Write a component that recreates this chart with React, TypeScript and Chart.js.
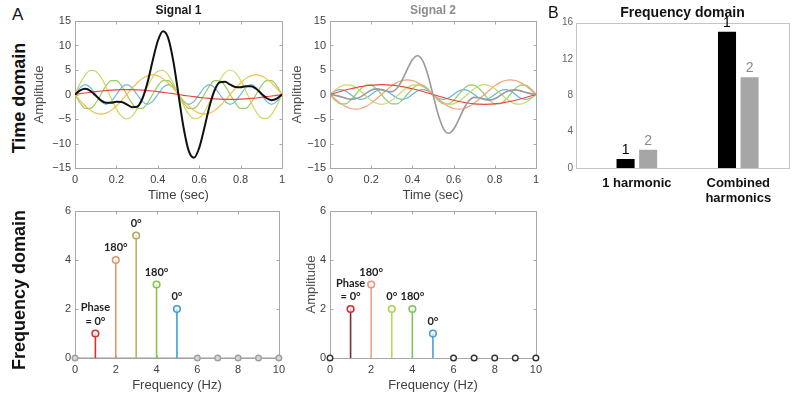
import React, { useEffect, useRef } from 'react';
import Chart from 'chart.js/auto';

// ---------- data ----------
const TIME = [0, 0.025, 0.05, 0.075, 0.1, 0.125, 0.15, 0.175, 0.2, 0.225, 0.25, 0.275, 0.3, 0.325, 0.35, 0.375, 0.4, 0.425, 0.45, 0.475, 0.5, 0.525, 0.55, 0.575, 0.6, 0.625, 0.65, 0.675, 0.7, 0.725, 0.75, 0.775, 0.8, 0.825, 0.85, 0.875, 0.9, 0.925, 0.95, 0.975, 1];

// Signal 1 harmonics (1..5 Hz) and their sum
const S1_H1 = [0, 0.16, 0.31, 0.45, 0.59, 0.71, 0.81, 0.89, 0.95, 0.99, 1, 0.99, 0.95, 0.89, 0.81, 0.71, 0.59, 0.45, 0.31, 0.16, 0, -0.16, -0.31, -0.45, -0.59, -0.71, -0.81, -0.89, -0.95, -0.99, -1, -0.99, -0.95, -0.89, -0.81, -0.71, -0.59, -0.45, -0.31, -0.16, 0];
const S1_H2 = [0, -1.24, -2.35, -3.24, -3.8, -4, -3.8, -3.24, -2.35, -1.24, 0, 1.24, 2.35, 3.24, 3.8, 4, 3.8, 3.24, 2.35, 1.24, 0, -1.24, -2.35, -3.24, -3.8, -4, -3.8, -3.24, -2.35, -1.24, 0, 1.24, 2.35, 3.24, 3.8, 4, 3.8, 3.24, 2.35, 1.24, 0];
const S1_H3 = [0, 2.27, 4.05, 4.94, 4.76, 3.54, 1.55, -0.78, -2.94, -4.46, -5, -4.46, -2.94, -0.78, 1.55, 3.54, 4.76, 4.94, 4.05, 2.27, 0, -2.27, -4.05, -4.94, -4.76, -3.54, -1.55, 0.78, 2.94, 4.46, 5, 4.46, 2.94, 0.78, -1.55, -3.54, -4.76, -4.94, -4.05, -2.27, 0];
const S1_H4 = [0, -1.76, -2.85, -2.85, -1.76, 0, 1.76, 2.85, 2.85, 1.76, 0, -1.76, -2.85, -2.85, -1.76, 0, 1.76, 2.85, 2.85, 1.76, 0, -1.76, -2.85, -2.85, -1.76, 0, 1.76, 2.85, 2.85, 1.76, 0, -1.76, -2.85, -2.85, -1.76, 0, 1.76, 2.85, 2.85, 1.76, 0];
const S1_H5 = [0, 1.41, 2, 1.41, 0, -1.41, -2, -1.41, 0, 1.41, 2, 1.41, 0, -1.41, -2, -1.41, 0, 1.41, 2, 1.41, 0, -1.41, -2, -1.41, 0, 1.41, 2, 1.41, 0, -1.41, -2, -1.41, 0, 1.41, 2, 1.41, 0, -1.41, -2, -1.41, 0];
const S1_SUM = [0, 0.84, 1.15, 0.72, -0.22, -1.17, -1.69, -1.69, -1.49, -1.53, -2, -2.58, -2.49, -0.92, 2.4, 6.83, 10.91, 12.9, 11.56, 6.84, 0, -6.84, -11.56, -12.9, -10.91, -6.83, -2.4, 0.92, 2.49, 2.58, 2, 1.53, 1.49, 1.69, 1.69, 1.17, 0.22, -0.72, -1.15, -0.84, 0];

// Signal 2 harmonics (1..5 Hz) and their sum
const S2_H1 = [0, 0.31, 0.62, 0.91, 1.18, 1.41, 1.62, 1.78, 1.9, 1.98, 2, 1.98, 1.9, 1.78, 1.62, 1.41, 1.18, 0.91, 0.62, 0.31, 0, -0.31, -0.62, -0.91, -1.18, -1.41, -1.62, -1.78, -1.9, -1.98, -2, -1.98, -1.9, -1.78, -1.62, -1.41, -1.18, -0.91, -0.62, -0.31, 0];
const S2_H2 = [0, -0.93, -1.76, -2.43, -2.85, -3, -2.85, -2.43, -1.76, -0.93, 0, 0.93, 1.76, 2.43, 2.85, 3, 2.85, 2.43, 1.76, 0.93, 0, -0.93, -1.76, -2.43, -2.85, -3, -2.85, -2.43, -1.76, -0.93, 0, 0.93, 1.76, 2.43, 2.85, 3, 2.85, 2.43, 1.76, 0.93, 0];
const S2_H3 = [0, 0.91, 1.62, 1.98, 1.9, 1.41, 0.62, -0.31, -1.18, -1.78, -2, -1.78, -1.18, -0.31, 0.62, 1.41, 1.9, 1.98, 1.62, 0.91, 0, -0.91, -1.62, -1.98, -1.9, -1.41, -0.62, 0.31, 1.18, 1.78, 2, 1.78, 1.18, 0.31, -0.62, -1.41, -1.9, -1.98, -1.62, -0.91, 0];
const S2_H4 = [0, -1.18, -1.9, -1.9, -1.18, 0, 1.18, 1.9, 1.9, 1.18, 0, -1.18, -1.9, -1.9, -1.18, 0, 1.18, 1.9, 1.9, 1.18, 0, -1.18, -1.9, -1.9, -1.18, 0, 1.18, 1.9, 1.9, 1.18, 0, -1.18, -1.9, -1.9, -1.18, 0, 1.18, 1.9, 1.9, 1.18, 0];
const S2_H5 = [0, 0.71, 1, 0.71, 0, -0.71, -1, -0.71, 0, 0.71, 1, 0.71, 0, -0.71, -1, -0.71, 0, 0.71, 1, 0.71, 0, -0.71, -1, -0.71, 0, 0.71, 1, 0.71, 0, -0.71, -1, -0.71, 0, 0.71, 1, 0.71, 0, -0.71, -1, -0.71, 0];
const S2_SUM = [0, -0.18, -0.43, -0.74, -0.95, -0.88, -0.44, 0.24, 0.87, 1.15, 1, 0.65, 0.59, 1.29, 2.91, 5.12, 7.11, 7.92, 6.9, 4.03, 0, -4.03, -6.9, -7.92, -7.11, -5.12, -2.91, -1.29, -0.59, -0.65, -1, -1.15, -0.87, -0.24, 0.44, 0.88, 0.95, 0.74, 0.43, 0.18, 0];

// Frequency domain stems
const STEM_FREQS = [1, 2, 3, 4, 5];
const S1_AMPS = [1, 4, 5, 3, 2];
const S2_AMPS = [2, 3, 2, 2, 1];
const S1_PHASES = [['Phase', '= 0°'], ['180°'], ['0°'], ['180°'], ['0°']];
const S2_PHASES = [['Phase', '= 0°'], ['180°'], ['0°'], ['180°'], ['0°']];
const ZERO_FREQS = [0, 6, 7, 8, 9, 10];

// Panel B
const BAR_CATS: (string | string[])[] = ['1 harmonic', ['Combined', 'harmonics']];
const BAR_SIGNAL1 = [1, 15];
const BAR_SIGNAL2 = [2, 10];

// ---------- styles ----------
const FONT = "'Liberation Sans', Arial, sans-serif";
const TICK_COLOR = '#404040';
const S1_TIME_COLORS = ['#e8483f', '#f3c04d', '#cbdb62', '#98cd62', '#67b9e8'];
const S2_TIME_COLORS = ['#e8453a', '#f5a27c', '#c6dc66', '#8fce6c', '#62b3e4'];
const S1_STEM_COLORS = ['#d8302a', '#e0966e', '#bdb468', '#86c34f', '#3c9fd6'];
const S1_MARK_COLORS = ['#d8302a', '#e0966e', '#b3aa5c', '#86c34f', '#3c9fd6'];
const S2_STEM_COLORS = ['#7b2d2d', '#eea38a', '#b8d65c', '#7fc25c', '#4a9dd6'];
const S2_MARK_COLORS = ['#e0282a', '#e8957a', '#b0cf55', '#7fc25c', '#4a9dd6'];

const fmtNum = (v: number) => {
  const n = Number(Number(v).toFixed(3));
  return n < 0 ? '\u2212' + Math.abs(n) : String(n);
};

function boxPlugin(color: string, len: number) {
  return {
    id: 'matBox',
    beforeDatasetsDraw(chart: any) {
      const { ctx, chartArea: a } = chart;
      ctx.save();
      ctx.strokeStyle = color;
      ctx.lineWidth = 1;
      const L = Math.round(a.left) + 0.5, T = Math.round(a.top) + 0.5;
      const R = Math.round(a.right) + 0.5, B = Math.round(a.bottom) + 0.5;
      ctx.strokeRect(L, T, R - L, B - T);
      if (len > 0) {
        const xs = chart.scales.x, ys = chart.scales.y;
        ctx.beginPath();
        xs.ticks.forEach((t: any) => {
          const p = Math.round(xs.getPixelForValue(t.value)) + 0.5;
          ctx.moveTo(p, B); ctx.lineTo(p, B - len);
          ctx.moveTo(p, T); ctx.lineTo(p, T + len);
        });
        ys.ticks.forEach((t: any) => {
          const p = Math.round(ys.getPixelForValue(t.value)) + 0.5;
          ctx.moveTo(L, p); ctx.lineTo(L + len, p);
          ctx.moveTo(R, p); ctx.lineTo(R - len, p);
        });
        ctx.stroke();
      }
      ctx.restore();
    },
  };
}

function stemLabelPlugin(labels: string[][]) {
  return {
    id: 'stemLabels',
    afterDatasetsDraw(chart: any) {
      const { ctx } = chart;
      ctx.save();
      ctx.font = "bold 11px Lato, 'Open Sans', sans-serif";
      ctx.fillStyle = '#222';
      ctx.textAlign = 'center';
      ctx.textBaseline = 'middle';
      labels.forEach((lines, k) => {
        const pt = chart.getDatasetMeta(k).data[1];
        if (!pt) return;
        const n = lines.length;
        lines.forEach((ln, j) => {
          ctx.fillText(ln, pt.x, pt.y - 12.5 - (n - 1 - j) * 13.5);
        });
      });
      ctx.restore();
    },
  };
}

const barLabelPlugin = {
  id: 'barLabels',
  afterDatasetsDraw(chart: any) {
    const { ctx } = chart;
    ctx.save();
    ctx.font = `14px ${FONT}`;
    ctx.textAlign = 'center';
    ctx.textBaseline = 'middle';
    chart.data.datasets.forEach((ds: any, i: number) => {
      ctx.fillStyle = ds.labelColor;
      chart.getDatasetMeta(i).data.forEach((bar: any) => {
        ctx.fillText(ds.label, bar.x, bar.y - 9);
      });
    });
    ctx.restore();
  },
};

function xAxis(min: number, max: number, step: number, title: string) {
  return {
    type: 'linear',
    min, max,
    ticks: { stepSize: step, color: TICK_COLOR, font: { family: FONT, size: 11 }, padding: 5, maxRotation: 0, autoSkip: false, callback: (v: number) => fmtNum(v) },
    grid: { display: false, drawTicks: false },
    border: { display: false },
    title: { display: true, text: title, color: TICK_COLOR, font: { family: FONT, size: 13 }, padding: { top: 0, bottom: 0 } },
    afterFit: (s: any) => { s.height = 35; },
  };
}

function yAxis(min: number, max: number, step: number, title: string, titlePad: number) {
  return {
    type: 'linear',
    min, max,
    ticks: { stepSize: step, color: TICK_COLOR, font: { family: FONT, size: 11 }, padding: 4, callback: (v: number) => fmtNum(v) },
    grid: { display: false, drawTicks: false },
    border: { display: false },
    title: { display: !!title, text: title, color: '#505050', font: { family: FONT, size: 13 }, padding: { top: titlePad, bottom: 0 } },
    afterFit: (s: any) => { s.width = 45; },
  };
}

function timeConfig(title: string, titleColor: string, sum: number[], sumColor: string, sumWidth: number, comps: number[][], colors: string[], yTitlePad: number) {
  const datasets = [
    { data: TIME.map((t, i) => ({ x: t, y: sum[i] })), borderColor: sumColor, borderWidth: sumWidth },
    ...comps.map((c, k) => ({ data: TIME.map((t, i) => ({ x: t, y: c[i] })), borderColor: colors[k], borderWidth: 1.2 })),
  ].map((d) => ({ ...d, pointRadius: 0, cubicInterpolationMode: 'monotone', fill: false }));
  return {
    type: 'line',
    data: { datasets },
    options: {
      responsive: false,
      animation: false,
      events: [],
      layout: { padding: { left: 0, right: 8, top: 0, bottom: 0 } },
      plugins: {
        legend: { display: false },
        tooltip: { enabled: false },
        title: { display: true, text: title, color: titleColor, fullSize: false, font: { family: FONT, size: 12, weight: 'bold' }, padding: { top: 3.6, bottom: 3 } },
      },
      scales: { x: xAxis(0, 1, 0.2, 'Time (sec)'), y: yAxis(-15, 15, 5, 'Amplitude', yTitlePad) },
    },
    plugins: [boxPlugin('#a8a8a8', 3)],
  };
}

function stemConfig(amps: number[], stemColors: string[], markColors: string[], zeroColor: string, zeroFill: string, baseline: boolean, labels: string[][], yTitle: string, yTitlePad: number) {
  const datasets: any[] = STEM_FREQS.map((f, k) => ({
    data: [{ x: f, y: 0 }, { x: f, y: amps[k] }],
    borderColor: stemColors[k],
    borderWidth: 1.6,
    pointRadius: [0, 3.3],
    pointBorderColor: markColors[k],
    pointBackgroundColor: '#ffffffaa',
    pointBorderWidth: 1.6,
    clip: false,
  }));
  datasets.push({
    data: ZERO_FREQS.map((f) => ({ x: f, y: 0 })),
    showLine: baseline,
    borderColor: '#9a9a9a',
    borderWidth: 1.2,
    pointRadius: 2.8,
    pointBorderColor: zeroColor,
    pointBackgroundColor: zeroFill,
    pointBorderWidth: 1.4,
    clip: false,
  });
  return {
    type: 'line',
    data: { datasets },
    options: {
      responsive: false,
      animation: false,
      events: [],
      layout: { padding: { left: 0, right: 8, top: 11, bottom: 0 } },
      plugins: { legend: { display: false }, tooltip: { enabled: false } },
      scales: { x: xAxis(0, 10, 2, 'Frequency (Hz)'), y: yAxis(0, 6, 2, yTitle, yTitlePad) },
    },
    plugins: [boxPlugin('#a8a8a8', 3), stemLabelPlugin(labels)],
  };
}

function barConfig() {
  return {
    type: 'bar',
    data: {
      datasets: [
        { label: '1', labelColor: '#000', data: BAR_SIGNAL1.map((v, i) => ({ x: i, y: v })), backgroundColor: '#000000', categoryPercentage: 0.445, barPercentage: 0.8 },
        { label: '2', labelColor: '#8a8a8a', data: BAR_SIGNAL2.map((v, i) => ({ x: i, y: v })), backgroundColor: '#a6a6a6', categoryPercentage: 0.445, barPercentage: 0.8 },
      ],
    },
    options: {
      responsive: false,
      animation: false,
      events: [],
      layout: { padding: { left: 0, right: 10, top: 0, bottom: 0 } },
      plugins: {
        legend: { display: false },
        tooltip: { enabled: false },
        title: { display: true, text: 'Frequency domain', color: '#111', fullSize: false, font: { family: FONT, size: 14, weight: 'bold' }, padding: { top: 4.5, bottom: 1.4 } },
      },
      scales: {
        x: {
          type: 'linear',
          min: -0.6,
          max: 1.5,
          offset: false,
          afterBuildTicks: (s: any) => { s.ticks = BAR_CATS.map((_, i) => ({ value: i })); },
          ticks: { color: '#111', font: { family: FONT, size: 13, weight: 'bold', lineHeight: 1.15 }, padding: 8, maxRotation: 0, autoSkip: false, callback: (_v: any, i: number) => BAR_CATS[i] },
          grid: { display: false, drawTicks: false },
          border: { display: false },
          afterFit: (s: any) => { s.height = 47; },
        },
        y: {
          min: 0,
          max: 16,
          ticks: { stepSize: 4, color: '#666', font: { family: FONT, size: 10 }, padding: 3 },
          grid: { display: false, drawTicks: false },
          border: { display: false },
          afterFit: (s: any) => { s.width = 31; },
        },
      },
    },
    plugins: [boxPlugin('#c4c4c4', 0), barLabelPlugin],
  };
}

const PANELS = [
  { left: 30, top: 0, w: 260, h: 203 },
  { left: 285, top: 0, w: 259, h: 203 },
  { left: 30, top: 200, w: 260, h: 193 },
  { left: 285, top: 200, w: 262, h: 193 },
  { left: 545, top: 0, w: 254, h: 215 },
];

export default function App() {
  const r0 = useRef<HTMLCanvasElement>(null);
  const r1 = useRef<HTMLCanvasElement>(null);
  const r2 = useRef<HTMLCanvasElement>(null);
  const r3 = useRef<HTMLCanvasElement>(null);
  const r4 = useRef<HTMLCanvasElement>(null);
  const refs = [r0, r1, r2, r3, r4];

  useEffect(() => {
    const configs: any[] = [
      timeConfig('Signal 1', '#1a1a1a', S1_SUM, '#111111', 2, [S1_H1, S1_H2, S1_H3, S1_H4, S1_H5], S1_TIME_COLORS, 2),
      timeConfig('Signal 2', '#8c8c8c', S2_SUM, '#9a9a9a', 1.6, [S2_H1, S2_H2, S2_H3, S2_H4, S2_H5], S2_TIME_COLORS, 5),
      stemConfig(S1_AMPS, S1_STEM_COLORS, S1_MARK_COLORS, '#a0a0a0', '#d8d8d8', true, S1_PHASES, '', 0),
      stemConfig(S2_AMPS, S2_STEM_COLORS, S2_MARK_COLORS, '#333333', '#ffffff', false, S2_PHASES, 'Amplitude', 19),
      barConfig(),
    ];
    const charts = configs.map((cfg, i) => new Chart(refs[i].current as HTMLCanvasElement, cfg));
    return () => charts.forEach((c) => c.destroy());
  }, []);

  const big: React.CSSProperties = { position: 'absolute', fontFamily: FONT, color: '#111', whiteSpace: 'nowrap' };

  return (
    <div style={{ position: 'absolute', left: 0, top: 0, width: 799, height: 393, background: '#ffffff', overflow: 'hidden' }}>
      {PANELS.map((p, i) => (
        <canvas key={i} ref={refs[i]} width={p.w} height={p.h} style={{ position: 'absolute', left: p.left, top: p.top, width: p.w, height: p.h }} />
      ))}
      <div style={{ ...big, left: 12, top: 6, fontSize: 17, lineHeight: '17px' }}>A</div>
      <div style={{ ...big, left: 548, top: 4.7, fontSize: 16, lineHeight: '16px' }}>B</div>
      <div style={{ ...big, left: 19, top: 97.5, fontSize: 18, lineHeight: '18px', fontWeight: 'bold', transform: 'translate(-50%, -50%) rotate(-90deg)' }}>Time domain</div>
      <div style={{ ...big, left: 19, top: 290, fontSize: 18, lineHeight: '18px', fontWeight: 'bold', transform: 'translate(-50%, -50%) rotate(-90deg)' }}>Frequency domain</div>
    </div>
  );
}
